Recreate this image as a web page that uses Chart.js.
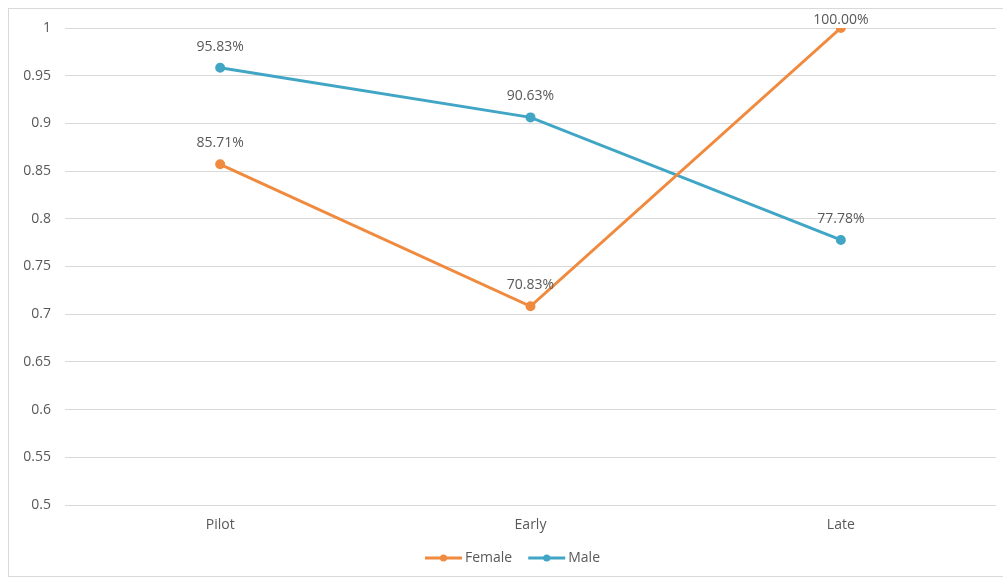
<!DOCTYPE html>
<html lang="en">
<head>
    <meta charset="UTF-8">
    <title>Female vs Male</title>
    <script src="https://cdnjs.cloudflare.com/ajax/libs/Chart.js/4.4.0/chart.umd.min.js"></script>
    <style>
        html, body { margin: 0; padding: 0; background: #fff; }
        .wrap { position: relative; width: 1003px; height: 581px; }
        .frame {
            position: absolute; left: 8px; top: 8px; width: 1000px; height: 569px;
            border: 1px solid #d9d9d9; box-sizing: border-box; pointer-events: none;
        }
        canvas { position: absolute; left: 0; top: 0; }
    </style>
</head>
<body>
    <div class="wrap">
        <canvas id="graph" width="1003" height="581"></canvas>
        <div class="frame"></div>
    </div>

    <script>
        // data
        const categories = ['Pilot', 'Early', 'Late'];
        const female = [0.8571, 0.7083, 1.0];
        const male = [0.9583, 0.9063, 0.7778];
        const seriesNames = ['Female', 'Male'];
        const seriesColors = ['#F08A3E', '#41A6C5'];

        const textColor = '#595959';
        const fontFamily = '"Open Sans", "DejaVu Sans", sans-serif';
        const fontSize = 14;

        // labels above each point (percent)
        const valueLabels = {
            id: 'valueLabels',
            afterDatasetsDraw(chart) {
                const ctx = chart.ctx;
                ctx.save();
                ctx.font = fontSize + 'px ' + fontFamily;
                ctx.fillStyle = textColor;
                ctx.textAlign = 'center';
                ctx.textBaseline = 'middle';
                chart.data.datasets.forEach((ds, i) => {
                    chart.getDatasetMeta(i).data.forEach((pt, j) => {
                        const y = Math.max(pt.y - 21, 20);
                        ctx.fillText((ds.data[j] * 100).toFixed(2) + '%', pt.x, y);
                    });
                });
                ctx.restore();
            }
        };

        // legend with line + marker, like the office style
        const lineLegend = {
            id: 'lineLegend',
            afterDraw(chart) {
                const ctx = chart.ctx;
                const y = 558;
                let x = 425;
                ctx.save();
                ctx.font = fontSize + 'px ' + fontFamily;
                ctx.textBaseline = 'middle';
                chart.data.datasets.forEach((ds) => {
                    ctx.strokeStyle = ds.borderColor;
                    ctx.lineWidth = 3;
                    ctx.beginPath();
                    ctx.moveTo(x, y);
                    ctx.lineTo(x + 37, y);
                    ctx.stroke();
                    ctx.fillStyle = ds.borderColor;
                    ctx.beginPath();
                    ctx.arc(x + 18.5, y, 3.5, 0, Math.PI * 2);
                    ctx.fill();
                    ctx.fillStyle = textColor;
                    ctx.fillText(ds.label, x + 40, y);
                    x += 40 + ctx.measureText(ds.label).width + 16;
                });
                ctx.restore();
            }
        };

        new Chart(document.getElementById('graph'), {
            type: 'line',
            data: {
                labels: categories,
                datasets: [
                    {
                        label: seriesNames[0], data: female,
                        borderColor: seriesColors[0], backgroundColor: seriesColors[0],
                        borderWidth: 3, pointRadius: 3.5, pointHoverRadius: 3.5, tension: 0, fill: false
                    },
                    {
                        label: seriesNames[1], data: male,
                        borderColor: seriesColors[1], backgroundColor: seriesColors[1],
                        borderWidth: 3, pointRadius: 3.5, pointHoverRadius: 3.5, tension: 0, fill: false
                    }
                ]
            },
            options: {
                responsive: false,
                animation: false,
                layout: { padding: { left: 8, right: 7, top: 28, bottom: 36 } },
                plugins: {
                    legend: { display: false },
                    tooltip: { enabled: false }
                },
                scales: {
                    x: {
                        offset: true,
                        grid: { display: false },
                        border: { display: false },
                        ticks: { color: textColor, font: { family: fontFamily, size: fontSize }, padding: 4 },
                        afterFit(scale) { scale.height = 40; }
                    },
                    y: {
                        min: 0.5,
                        max: 1,
                        grid: { color: '#d9d9d9', lineWidth: 1, drawTicks: false },
                        border: { display: false },
                        ticks: {
                            stepSize: 0.05,
                            color: textColor,
                            font: { family: fontFamily, size: fontSize },
                            padding: 14,
                            callback: (v) => String(Number(v.toFixed(2)))
                        },
                        afterFit(scale) { scale.width = 57; }
                    }
                }
            },
            plugins: [valueLabels, lineLegend]
        });
    </script>
</body>
</html>
